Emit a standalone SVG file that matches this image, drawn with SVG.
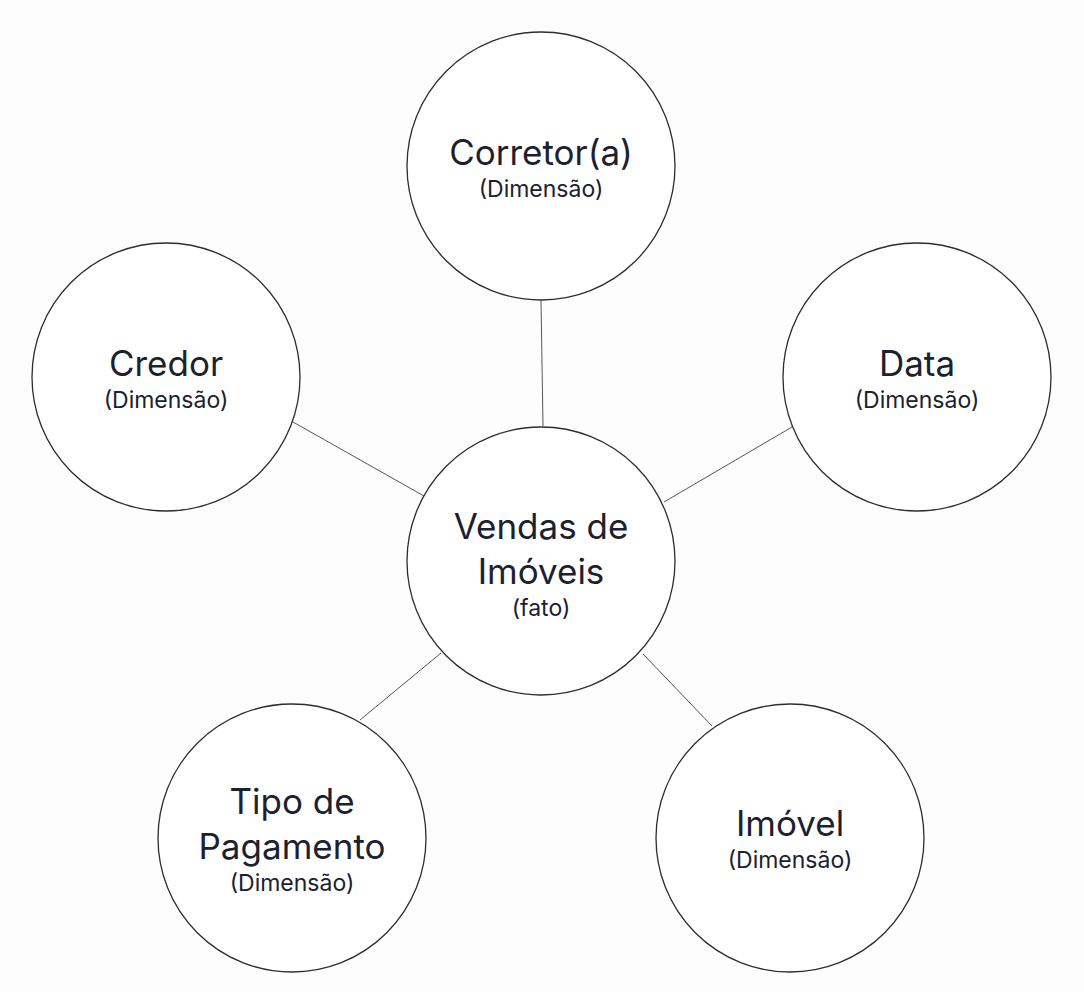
<svg xmlns="http://www.w3.org/2000/svg" width="1084" height="992" viewBox="0 0 1084 992">
<style>
.n{fill:#fff;stroke:#2a2d33;stroke-width:1.3}
.t{font-family:Inter,"Open Sans",sans-serif;font-size:35px;fill:#1c2130;text-anchor:middle}
.s{font-family:Inter,"Open Sans",sans-serif;font-size:23px;fill:#1c2130;text-anchor:middle}
.c{stroke:#555;stroke-width:1}
</style>
<rect width="1084" height="992" fill="#fdfdfd"/>
<g id="connectors">
<line class="c" x1="541" y1="300" x2="543" y2="426"/>
<line class="c" x1="293" y1="422" x2="424" y2="496"/>
<line class="c" x1="792" y1="427" x2="664" y2="502"/>
<line class="c" x1="360" y1="720" x2="441" y2="653"/>
<line class="c" x1="712" y1="726" x2="643" y2="654"/>
</g>
<g id="corretor"><circle class="n" cx="541" cy="166" r="134"/><text class="t" x="541" y="165">Corretor(a)</text><text class="s" x="541" y="197">(Dimensão)</text></g>
<g id="credor"><circle class="n" cx="166" cy="377" r="134"/><text class="t" x="166" y="376">Credor</text><text class="s" x="166" y="408">(Dimensão)</text></g>
<g id="data"><circle class="n" cx="917" cy="377" r="134"/><text class="t" x="917" y="376">Data</text><text class="s" x="917" y="408">(Dimensão)</text></g>
<g id="vendas"><circle class="n" cx="541" cy="561" r="134"/><text class="t" x="541" y="539">Vendas de</text><text class="t" x="541" y="584">Imóveis</text><text class="s" x="541" y="616">(fato)</text></g>
<g id="tipo"><circle class="n" cx="292" cy="838" r="134"/><text class="t" x="292" y="814">Tipo de</text><text class="t" x="292" y="859">Pagamento</text><text class="s" x="292" y="891">(Dimensão)</text></g>
<g id="imovel"><circle class="n" cx="790" cy="838" r="134"/><text class="t" x="790" y="836">Imóvel</text><text class="s" x="790" y="868">(Dimensão)</text></g>
</svg>
